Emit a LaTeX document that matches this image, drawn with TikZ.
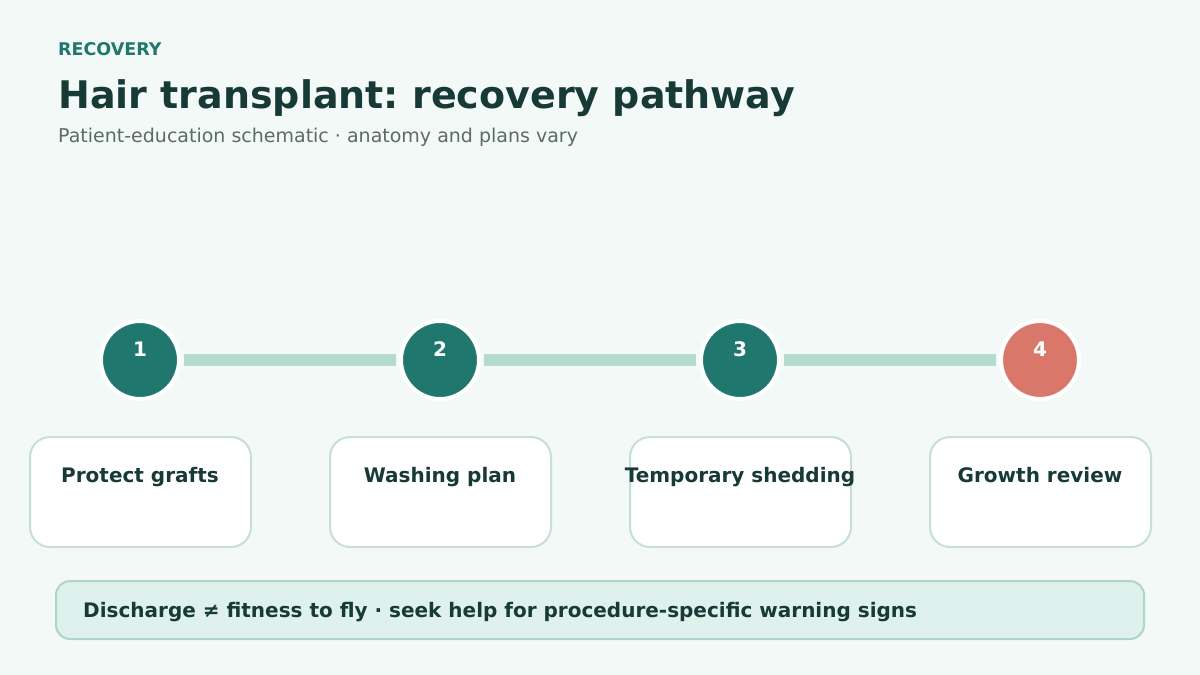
\documentclass[tikz,border=0pt]{standalone}
\usepackage{fontspec}
\setmainfont{DejaVu Sans}
\usetikzlibrary{positioning}
\frenchspacing

\definecolor{bgpale}{HTML}{F3F9F7}
\definecolor{tealdark}{HTML}{1F776D}
\definecolor{inkdark}{HTML}{173A36}
\definecolor{subgrey}{HTML}{5B6B68}
\definecolor{linkpale}{HTML}{B5DBD0}
\definecolor{cardedge}{HTML}{C6DFD8}
\definecolor{coral}{HTML}{D9786A}
\definecolor{notefill}{HTML}{DFF1EC}
\definecolor{noteedge}{HTML}{AFD5CA}

\tikzset{
  stepdot/.style={circle, fill=tealdark, draw=white, line width=4pt, minimum size=78pt, inner sep=0pt},
  stepnum/.style={text=white, font=\bfseries\fontsize{20}{22}\selectfont, inner sep=0pt, anchor=base},
  steplink/.style={draw=linkpale, line width=12pt},
  stepcard/.style={draw=cardedge, fill=white, line width=2pt, rounded corners=20pt},
  cardtext/.style={text=inkdark, font=\bfseries\fontsize{20}{24}\selectfont, inner sep=0pt, anchor=base},
}

\begin{document}
\begin{tikzpicture}[x=1pt,y=-1pt]

	%%BACKGROUND---------------------------------------------
	\fill [bgpale] (0,0) rectangle (1200,675);
	\useasboundingbox (0,0) rectangle (1200,675);

	%%HEADER---------------------------------------------
	% Text Node
	\node (kicker) [anchor=base west, inner sep=0pt, text=tealdark, font=\bfseries\fontsize{17.5}{20}\selectfont] at (58,55) {RECOVERY};
	% Text Node
	\node (title) [anchor=base west, inner sep=0pt, text=inkdark, font=\bfseries\fontsize{38}{42}\selectfont] at (58,108) {Hair transplant: recovery pathway};
	% Text Node
	\node (subtitle) [anchor=base west, inner sep=0pt, text=subgrey, font=\fontsize{19}{22}\selectfont] at (58,142) {Patient-education schematic · anatomy and plans vary};

	%%STEPS---------------------------------------------
	\node (dotA) [stepdot] at (140,360) {};
	\node (dotB) [stepdot] at (440,360) {};
	\node (dotC) [stepdot] at (740,360) {};
	\node (dotD) [stepdot, fill=coral] at (1040,360) {};

	%%links between steps
	\draw [steplink] ([xshift=3pt]dotA.east) -- ([xshift=-3pt]dotB.west);
	\draw [steplink] ([xshift=3pt]dotB.east) -- ([xshift=-3pt]dotC.west);
	\draw [steplink] ([xshift=3pt]dotC.east) -- ([xshift=-3pt]dotD.west);

	%%numbers
	\node (numA) [stepnum] at (140,356) {1};
	\node (numB) [stepnum] at (440,356) {2};
	\node (numC) [stepnum] at (740,356) {3};
	\node (numD) [stepnum] at (1040,356) {4};

	%%CARDS---------------------------------------------
	\draw [stepcard] (30,437) rectangle (251,547);
	\draw [stepcard] (330,437) rectangle (551,547);
	\draw [stepcard] (630,437) rectangle (851,547);
	\draw [stepcard] (930,437) rectangle (1151,547);

	% Text Node
	\node (cardA) [cardtext] at (140,482) {Protect grafts};
	% Text Node
	\node (cardB) [cardtext] at (440,482) {Washing plan};
	% Text Node
	\node (cardC) [cardtext] at (740,482) {Temporary shedding};
	% Text Node
	\node (cardD) [cardtext] at (1040,482) {Growth review};

	%%NOTE BANNER---------------------------------------------
	\draw [draw=noteedge, fill=notefill, line width=2pt, rounded corners=14pt] (56,581) rectangle (1144,639);
	% Text Node
	\node (note) [cardtext, anchor=base west] at (83,617) {Discharge ≠ fitness to fly · seek help for procedure-specific warning signs};

\end{tikzpicture}
\end{document}
